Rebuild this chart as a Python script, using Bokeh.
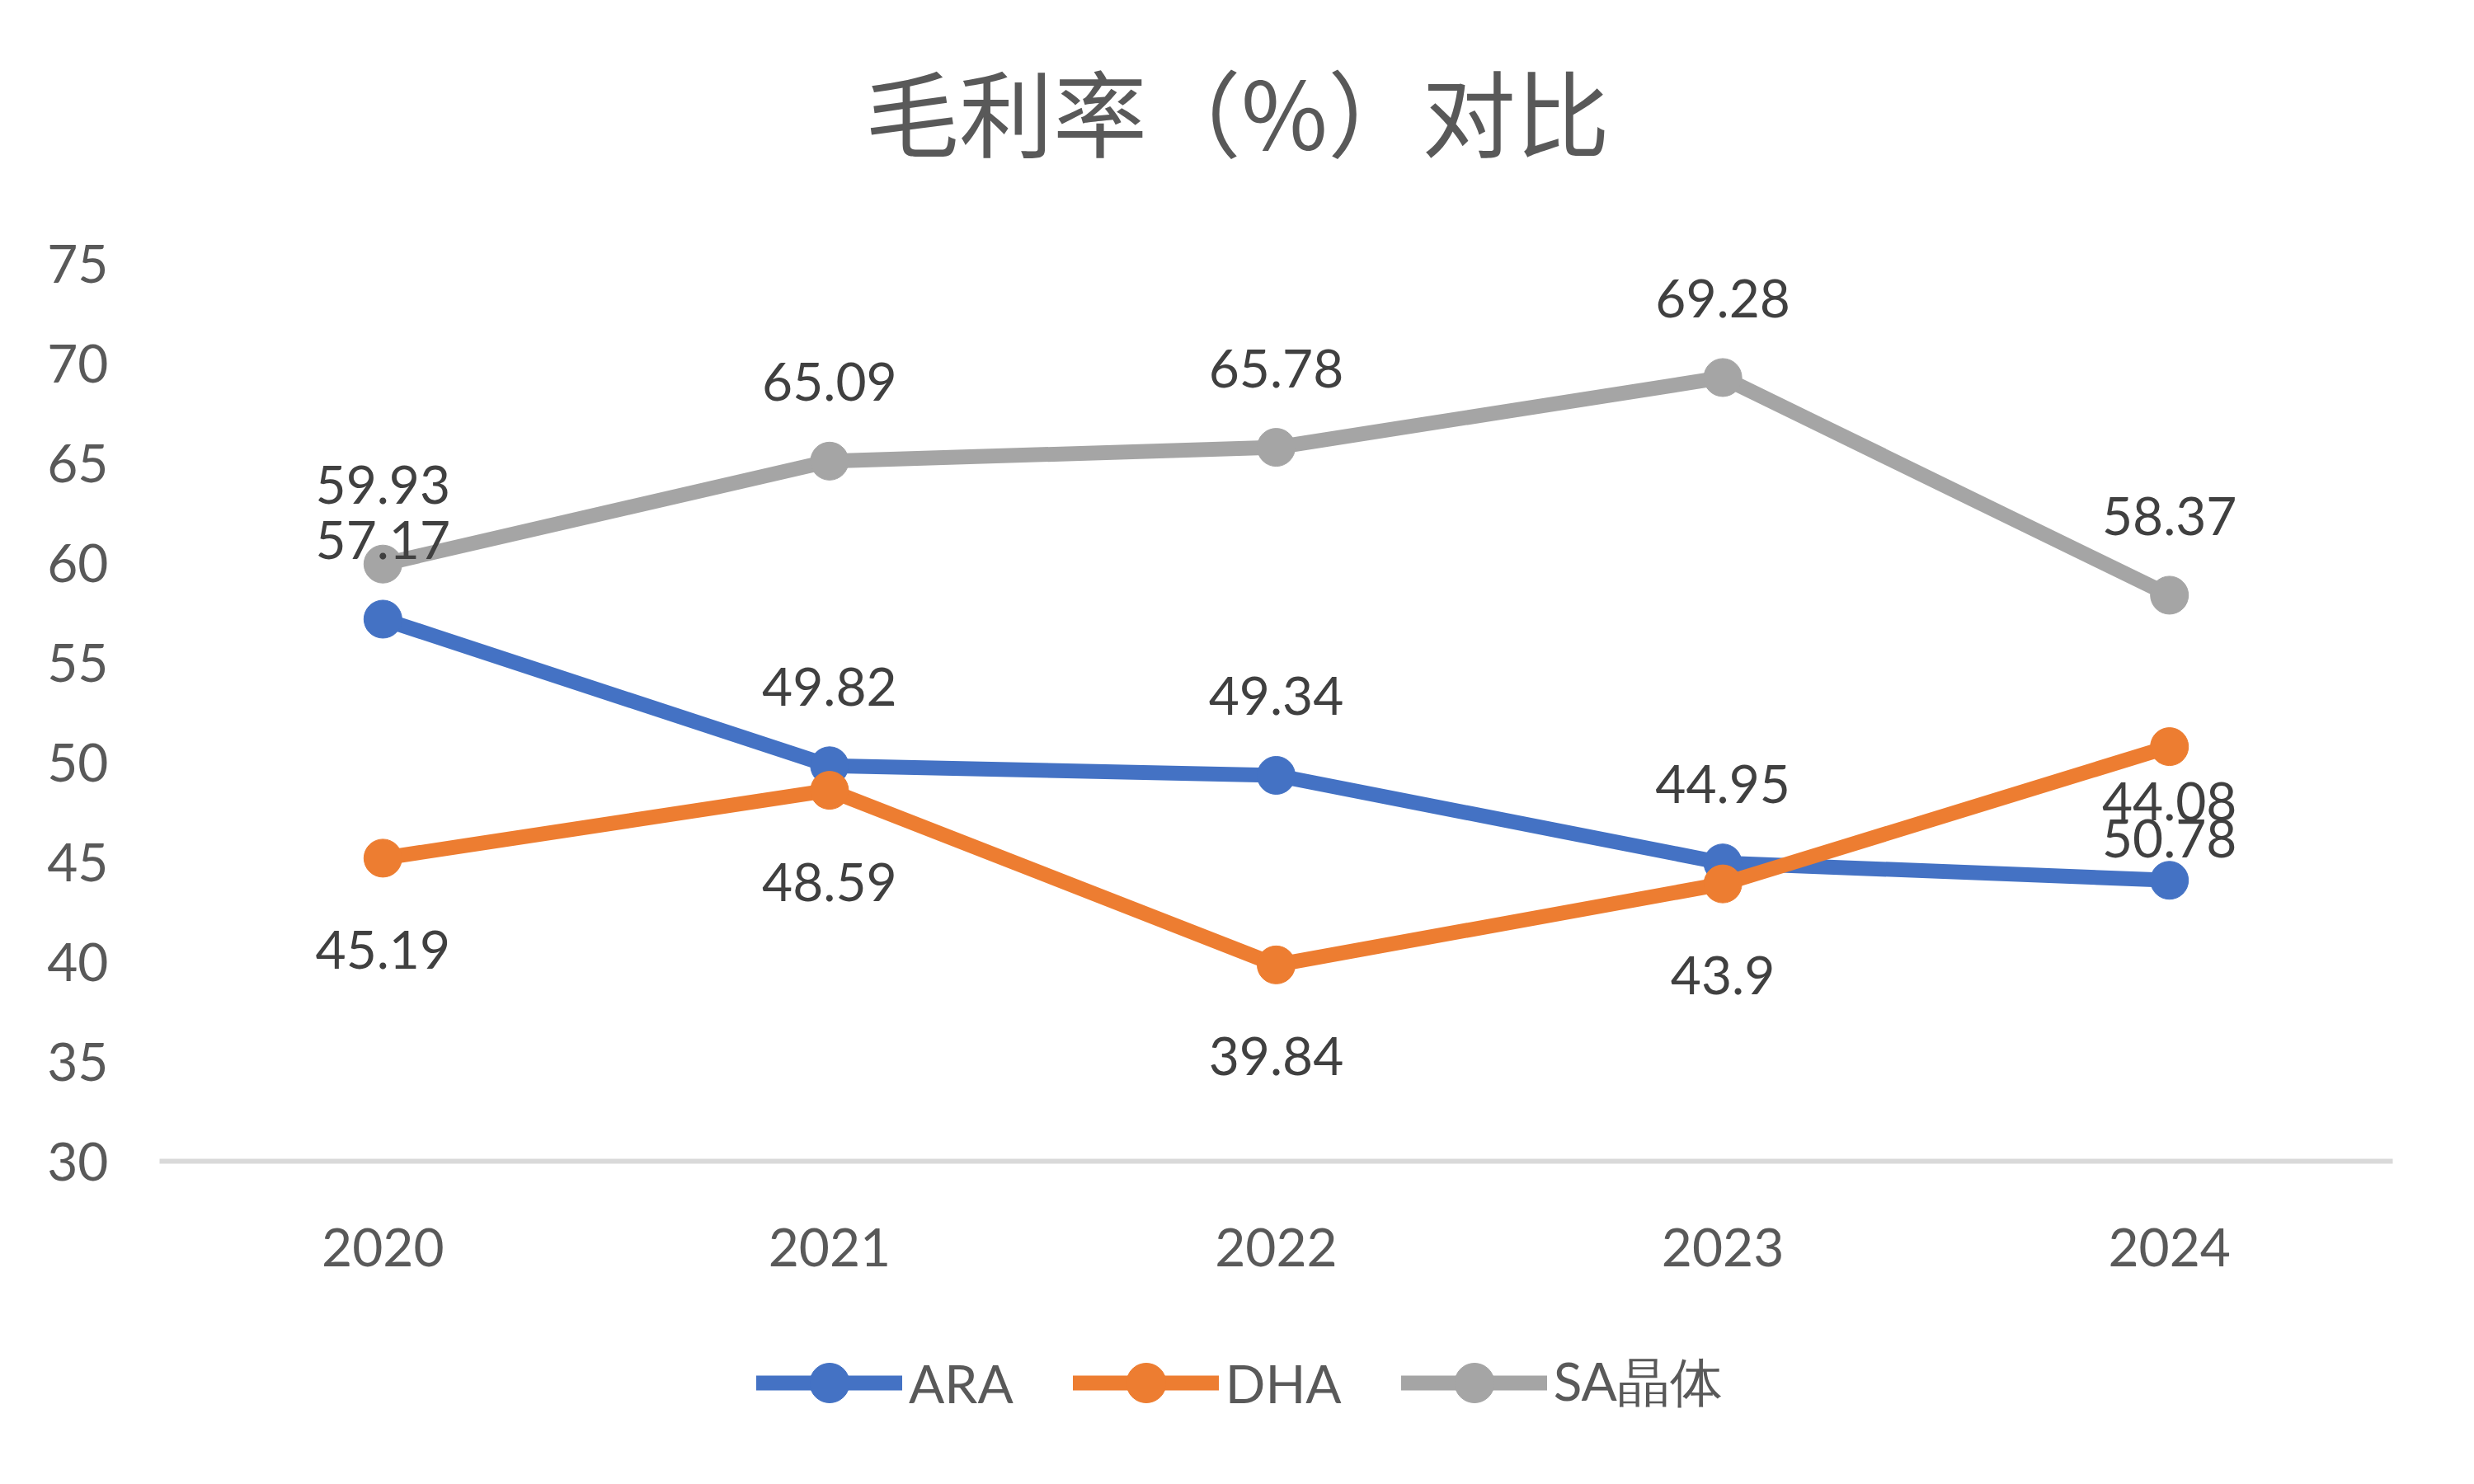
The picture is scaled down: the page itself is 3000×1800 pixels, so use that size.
from bokeh.plotting import figure
from bokeh.layouts import column
from bokeh.models import (FixedTicker, Label, Legend, LegendItem, ColumnDataSource)
from bokeh.core.properties import value
from bokeh.embed import file_html
from bokeh.resources import INLINE

years = ["2020", "2021", "2022", "2023", "2024"]
ara = [57.17, 49.82, 49.34, 44.95, 44.08]
dha = [45.19, 48.59, 39.84, 43.9, 50.78]
sa = [59.93, 65.09, 65.78, 69.28, 58.37]
series_names = ["ARA", "DHA", "SA晶体"]
y_ticks = [30, 35, 40, 45, 50, 55, 60, 65, 70, 75]
title_text = "毛利率（%）对比"

colors = ["#4472C4", "#ED7D31", "#A5A5A5"]
FONT = "Lato"
W = 2984
H_TITLE, H_MAIN, H_LEG = 250, 1328, 206
BL, BR = 193, 83   # left / right borders (frames are aligned in the column)

# ---- title strip ----
tf = figure(width=W, height=H_TITLE, output_backend="svg", toolbar_location=None,
            x_axis_type=None, y_axis_type=None, min_border=0,
            min_border_left=BL, min_border_right=BR)
tf.outline_line_color = None
tf.add_layout(Label(x=1500 - BL, y=H_TITLE - 132, x_units="screen", y_units="screen",
                    text=title_text, text_align="center", text_baseline="middle",
                    text_font="Noto Sans CJK SC", text_font_size="114px",
                    text_color="#595959"))

# ---- main chart ----
p = figure(width=W, height=H_MAIN, x_range=years, y_range=(30, 75),
           output_backend="svg", toolbar_location=None,
           min_border_left=BL, min_border_right=BR,
           min_border_top=319 - H_TITLE, min_border_bottom=170)
p.outline_line_color = None
p.grid.visible = False
p.x_range.range_padding = 0

p.yaxis.ticker = FixedTicker(ticks=y_ticks)
p.yaxis.axis_line_color = None
p.yaxis.major_tick_line_color = None
p.yaxis.minor_tick_line_color = None
p.yaxis.major_label_standoff = 56
p.yaxis.major_label_text_font = FONT
p.yaxis.major_label_text_font_size = "64px"
p.yaxis.major_label_text_color = "#595959"

p.xaxis.axis_line_color = "#D9D9D9"
p.xaxis.axis_line_width = 6
p.xaxis.major_tick_line_color = None
p.xaxis.minor_tick_line_color = None
p.xaxis.major_label_standoff = 75
p.xaxis.major_label_text_font = FONT
p.xaxis.major_label_text_font_size = "64px"
p.xaxis.major_label_text_color = "#595959"

for vals, col in zip([ara, dha, sa], colors):
    src = ColumnDataSource(dict(x=years, y=vals))
    p.line("x", "y", source=src, line_color=col, line_width=18,
           line_join="round", line_cap="round")
    p.scatter("x", "y", source=src, size=46, fill_color=col,
              line_color=col, line_width=1)

for vals, off in [(ara, -96), (dha, 111), (sa, -96)]:
    src = ColumnDataSource(dict(x=years, y=vals, t=[f"{v:g}" for v in vals]))
    p.text("x", "y", text="t", source=src, y_offset=off,
           text_align="center", text_baseline="middle",
           text_font=value(FONT), text_font_size="64px",
           text_color="#404040")

# ---- legend strip ----
lf = figure(width=W, height=H_LEG, output_backend="svg", toolbar_location=None,
            x_axis_type=None, y_axis_type=None, min_border=0,
            min_border_left=BL, min_border_right=BR,
            x_range=years, y_range=(30, 75))
lf.outline_line_color = None
items = []
for name, vals, col in zip(series_names, [ara, dha, sa], colors):
    src = ColumnDataSource(dict(x=years, y=vals))
    lr = lf.line("x", "y", source=src, line_color=col, line_width=18,
                 line_cap="round", visible=False)
    sr = lf.scatter("x", "y", source=src, size=46, fill_color=col,
                    line_color=col, visible=False)
    items.append(LegendItem(label=name, renderers=[lr, sr]))
legend = Legend(items=items, orientation="horizontal", location=(917 - BL, 47),
                glyph_width=177, glyph_height=120, label_standoff=8,
                spacing=72, padding=0, margin=0, click_policy="none",
                border_line_color=None, background_fill_alpha=0,
                label_text_font=FONT, label_text_font_size="64px",
                label_text_color="#595959")
lf.add_layout(legend, "center")

layout = column(tf, p, lf, spacing=0)
open("out.html", "w").write(file_html(layout, INLINE))
